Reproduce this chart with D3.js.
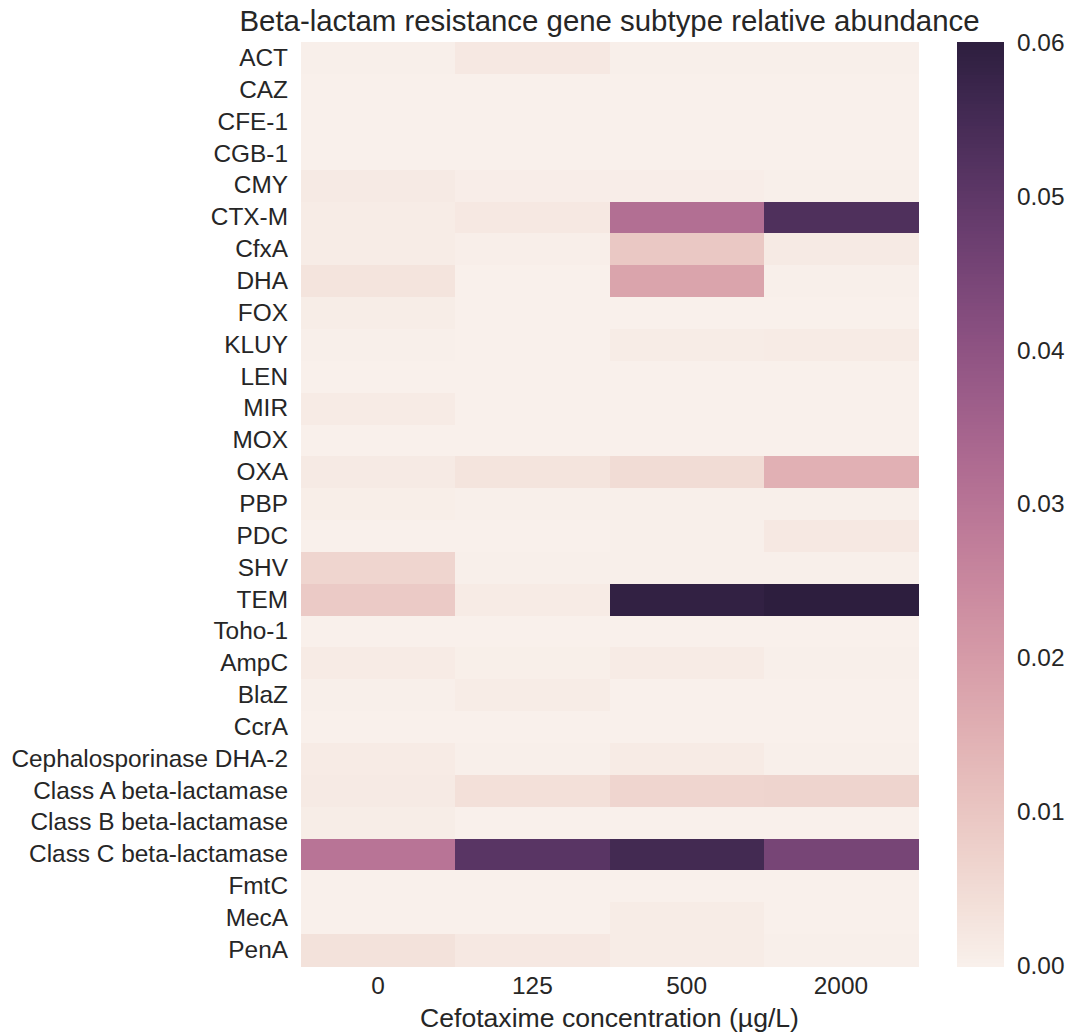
<!DOCTYPE html>
<html>
<head>
<meta charset="utf-8">
<script src="https://cdn.jsdelivr.net/npm/d3@7/dist/d3.min.js"></script>
<style>
  html, body { margin: 0; padding: 0; background: #ffffff; }
  svg { display: block; }
  text { font-family: "Liberation Sans", Arial, sans-serif; fill: #262626; }
</style>
</head>
<body>
<svg id="chart" width="1068" height="1033"></svg>
<script>
// Gene subtypes (rows, top to bottom)
const genes = [
  "ACT", "CAZ", "CFE-1", "CGB-1", "CMY", "CTX-M", "CfxA", "DHA", "FOX", "KLUY",
  "LEN", "MIR", "MOX", "OXA", "PBP", "PDC", "SHV", "TEM", "Toho-1", "AmpC",
  "BlaZ", "CcrA", "Cephalosporinase DHA-2", "Class A beta-lactamase",
  "Class B beta-lactamase", "Class C beta-lactamase", "FmtC", "MecA", "PenA"
];

// Cefotaxime concentrations (columns)
const concentrations = ["0", "125", "500", "2000"];

// Relative abundance per concentration, one array per column, in gene order
const abund0 = [
  0.0002, 0.0001, 0.0001, 0.0001, 0.0015, 0.0010, 0.0010, 0.0030, 0.0008, 0.0002,
  0.0001, 0.0012, 0.0001, 0.0015, 0.0006, 0.0001, 0.0065, 0.0090, 0.0001, 0.0012,
  0.0002, 0.0001, 0.0012, 0.0015, 0.0008, 0.0300, 0.0001, 0.0001, 0.0035
];
const abund125 = [
  0.0020, 0.0001, 0.0001, 0.0001, 0.0007, 0.0020, 0.0005, 0.0001, 0.0001, 0.0001,
  0.0001, 0.0001, 0.0001, 0.0030, 0.0003, 0.0001, 0.0002, 0.0013, 0.0001, 0.0004,
  0.0010, 0.0001, 0.0002, 0.0040, 0.0001, 0.0510, 0.0001, 0.0001, 0.0020
];
const abund500 = [
  0.0002, 0.0001, 0.0001, 0.0001, 0.0007, 0.0315, 0.0095, 0.0180, 0.0001, 0.0010,
  0.0001, 0.0001, 0.0001, 0.0050, 0.0003, 0.0002, 0.0002, 0.0590, 0.0001, 0.0012,
  0.0001, 0.0001, 0.0012, 0.0065, 0.0001, 0.0555, 0.0001, 0.0010, 0.0010
];
const abund2000 = [
  0.0002, 0.0001, 0.0001, 0.0001, 0.0002, 0.0530, 0.0015, 0.0002, 0.0001, 0.0012,
  0.0001, 0.0001, 0.0001, 0.0150, 0.0002, 0.0020, 0.0002, 0.0600, 0.0001, 0.0002,
  0.0001, 0.0001, 0.0002, 0.0068, 0.0001, 0.0450, 0.0001, 0.0001, 0.0002
];

// Colorbar tick values
const colorTicks = [0.00, 0.01, 0.02, 0.03, 0.04, 0.05, 0.06];

const titleText = "Beta-lactam resistance gene subtype relative abundance";
const xTitleText = "Cefotaxime concentration (\u00b5g/L)";

// Cubehelix ramp (start 0, rotation 0.4, hue 0.8) from light 0.95 to dark 0.15
function cubehelixColor(t) {
  const x = 0.95 + (0.15 - 0.95) * Math.max(0, Math.min(1, t));
  const a = 0.8 * x * (1 - x) / 2;
  const phi = 2 * Math.PI * (0.4 * x);
  const c = Math.cos(phi), s = Math.sin(phi);
  const r = x + a * (-0.14861 * c + 1.78277 * s);
  const g = x + a * (-0.29227 * c - 0.90649 * s);
  const b = x + a * (1.97294 * c);
  const to255 = v => Math.round(255 * Math.max(0, Math.min(1, v)));
  return d3.rgb(to255(r), to255(g), to255(b)).formatHex();
}

const columns = [abund0, abund125, abund500, abund2000];
const cells = [];
concentrations.forEach((conc, j) => {
  genes.forEach((gene, i) => {
    cells.push({ gene, conc, value: columns[j][i] });
  });
});

const svg = d3.select("#chart");
const plot = { left: 301, right: 918, top: 42.3, bottom: 966 };
const cbar = { left: 957, right: 1004 };

const x = d3.scaleBand().domain(concentrations).range([plot.left, plot.right]).padding(0);
const y = d3.scaleBand().domain(genes).range([plot.top, plot.bottom]).padding(0);
const colorNorm = d3.scaleLinear().domain([0, 0.06]).range([0, 1]).clamp(true);
const color = v => cubehelixColor(colorNorm(v));

// Heatmap cells
svg.append("g")
  .attr("shape-rendering", "crispEdges")
  .selectAll("rect")
  .data(cells)
  .join("rect")
  .attr("x", d => x(d.conc))
  .attr("y", d => y(d.gene))
  .attr("width", x.bandwidth() + 0.5)
  .attr("height", y.bandwidth() + 0.5)
  .attr("fill", d => color(d.value));

// Row labels
const yAxis = svg.append("g")
  .attr("transform", `translate(${plot.left},0)`)
  .call(d3.axisLeft(y).tickSize(0).tickPadding(13));
yAxis.select(".domain").remove();
yAxis.selectAll("text")
  .style("font-size", "24.4px")
  .style("font-family", "'Liberation Sans', Arial, sans-serif")
  .attr("fill", "#262626");

// Column labels
const xAxis = svg.append("g")
  .attr("transform", `translate(0,${plot.bottom})`)
  .call(d3.axisBottom(x).tickSize(0).tickPadding(11));
xAxis.select(".domain").remove();
xAxis.selectAll("text")
  .style("font-size", "24.4px")
  .style("font-family", "'Liberation Sans', Arial, sans-serif")
  .attr("fill", "#262626");

// Axis title
svg.append("text")
  .attr("x", (plot.left + plot.right) / 2)
  .attr("y", 1027)
  .attr("text-anchor", "middle")
  .style("font-size", "26.6px")
  .text(xTitleText);

// Chart title
svg.append("text")
  .attr("x", (plot.left + plot.right) / 2)
  .attr("y", 31)
  .attr("text-anchor", "middle")
  .style("font-size", "29.4px")
  .text(titleText);

// Colorbar
const cy = d3.scaleLinear().domain([0, 0.06]).range([plot.bottom, plot.top]);
const steps = d3.range(256).map(k => (k + 0.5) / 256 * 0.06);
const stepH = (plot.bottom - plot.top) / 256;
svg.append("g")
  .attr("shape-rendering", "crispEdges")
  .selectAll("rect")
  .data(steps)
  .join("rect")
  .attr("x", cbar.left)
  .attr("width", cbar.right - cbar.left)
  .attr("y", d => cy(d) - stepH / 2)
  .attr("height", stepH + 0.6)
  .attr("fill", d => color(d));

const cAxis = svg.append("g")
  .attr("transform", `translate(${cbar.right},0)`)
  .call(d3.axisRight(cy).tickValues(colorTicks).tickFormat(d3.format(".2f")).tickSize(0).tickPadding(13));
cAxis.select(".domain").remove();
cAxis.selectAll("text")
  .style("font-size", "24.4px")
  .style("font-family", "'Liberation Sans', Arial, sans-serif")
  .attr("fill", "#262626");
</script>
</body>
</html>
